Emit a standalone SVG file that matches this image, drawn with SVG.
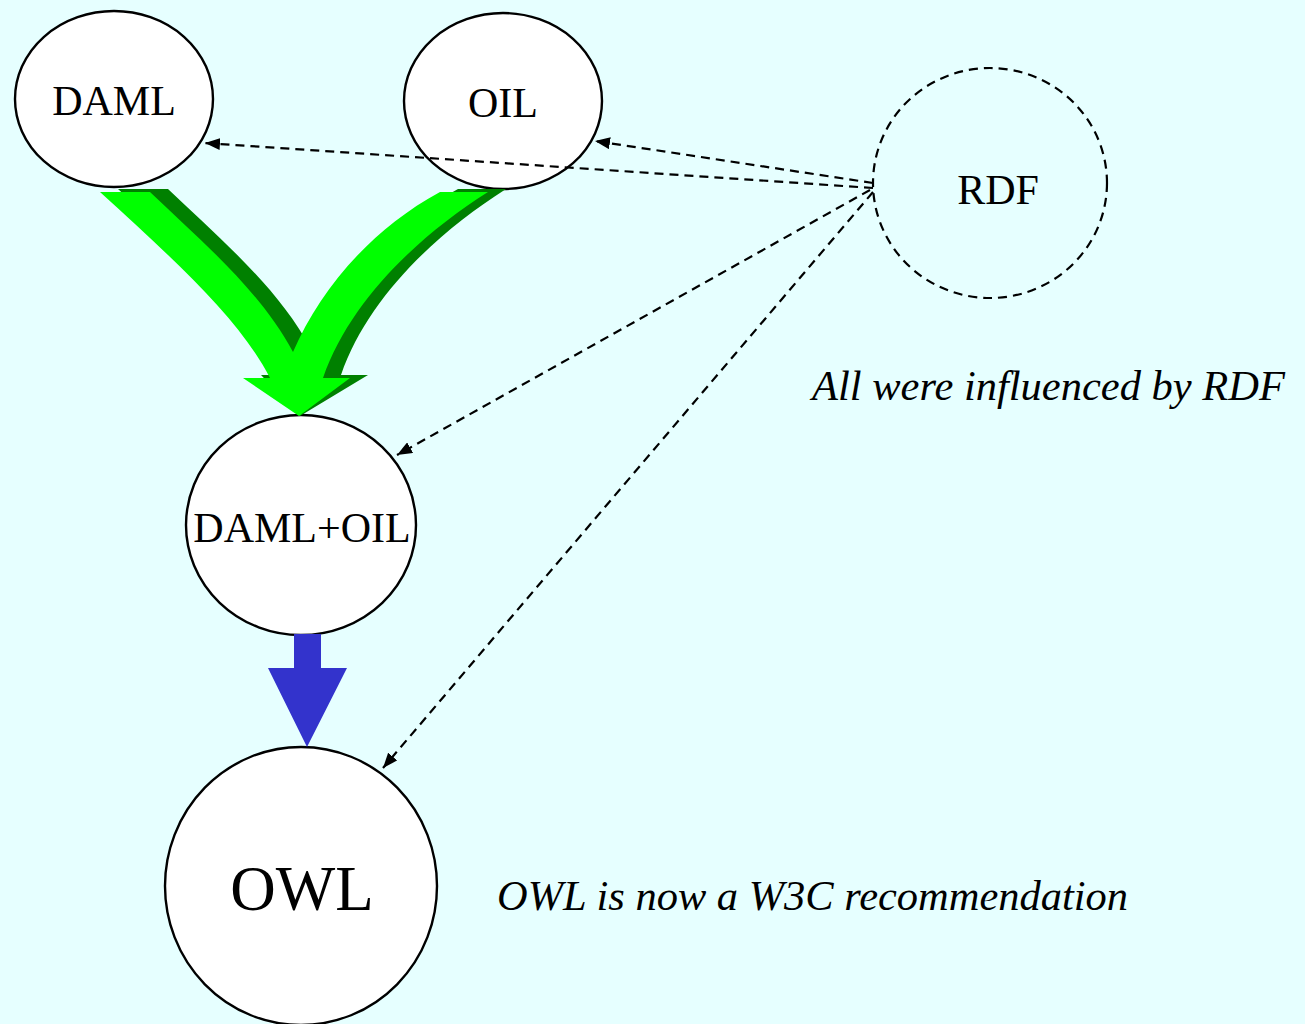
<svg xmlns="http://www.w3.org/2000/svg" width="1305" height="1024" viewBox="0 0 1305 1024">
<style>
.node{fill:#fff;stroke:#000;stroke-width:2.4}
.dashed{fill:none;stroke:#000;stroke-width:2.2;stroke-dasharray:9,6}
.lbl{font-family:"Liberation Serif","Times New Roman",serif;fill:#000;text-anchor:middle}
.note{font-family:"Liberation Serif","Times New Roman",serif;font-style:italic;font-size:42px;fill:#000}
.inf{fill:none;stroke:#000;stroke-width:2.2;stroke-dasharray:9,6;marker-end:url(#ah)}
</style>
<defs>
<marker id="ah" markerUnits="userSpaceOnUse" markerWidth="15" markerHeight="12" refX="15" refY="6" viewBox="0 0 15 12" orient="auto">
<path d="M0,0 L15,6 L0,12 z" fill="#000"/>
</marker>
</defs>
<rect x="0" y="0" width="1305" height="1024" fill="#e6ffff"/>

<g id="node-daml">
<ellipse class="node" cx="114" cy="99" rx="99" ry="88"/>
<text class="lbl" x="114" y="115" font-size="42">DAML</text>
</g>
<g id="node-oil">
<ellipse class="node" cx="503" cy="101" rx="99" ry="88"/>
<text class="lbl" x="503" y="117" font-size="42">OIL</text>
</g>
<g id="node-rdf">
<ellipse class="dashed" cx="990" cy="183" rx="117" ry="115"/>
<text class="lbl" x="998" y="204" font-size="42">RDF</text>
</g>
<g id="node-damloil">
<ellipse class="node" cx="301" cy="525" rx="115" ry="110"/>
<text class="lbl" x="302" y="542" font-size="42">DAML+OIL</text>
</g>
<g id="node-owl">
<ellipse class="node" cx="301" cy="886" rx="136" ry="139"/>
<text class="lbl" x="302" y="910" font-size="63">OWL</text>
</g>

<g id="connectors">
<g id="merge-arrow">
<path fill="#008000" d="M118,189 L168,189 C218,237 278,287 311,349 C338,287 388,227 458,189 L506,189 C438,232 368,297 341,375 L368,375 L300,416 L261,375 L288,375 C258,317 198,262 118,189 Z"/>
<path fill="#00ff00" d="M100,192 L150,192 C200,240 260,290 293,352 C320,290 370,230 440,192 L488,192 C420,235 350,300 323,378 L350,378 L299,416 L243,378 L270,378 C240,320 180,265 100,192 Z"/>
</g>
<path id="evolve-arrow" fill="#3333cc" d="M294,634 L321,634 L321,668 L347,668 L307,747 L268,668 L294,668 Z"/>
<line class="inf" x1="873" y1="188" x2="205" y2="143"/>
<line class="inf" x1="873" y1="183" x2="595" y2="141"/>
<line class="inf" x1="870" y1="190" x2="397" y2="455"/>
<line class="inf" x1="873" y1="192" x2="383" y2="768"/>
</g>

<text class="note" x="812" y="400" textLength="473" lengthAdjust="spacingAndGlyphs">All were influenced by RDF</text>
<text class="note" x="497" y="910" textLength="631" lengthAdjust="spacingAndGlyphs">OWL is now a W3C recommendation</text>
</svg>
